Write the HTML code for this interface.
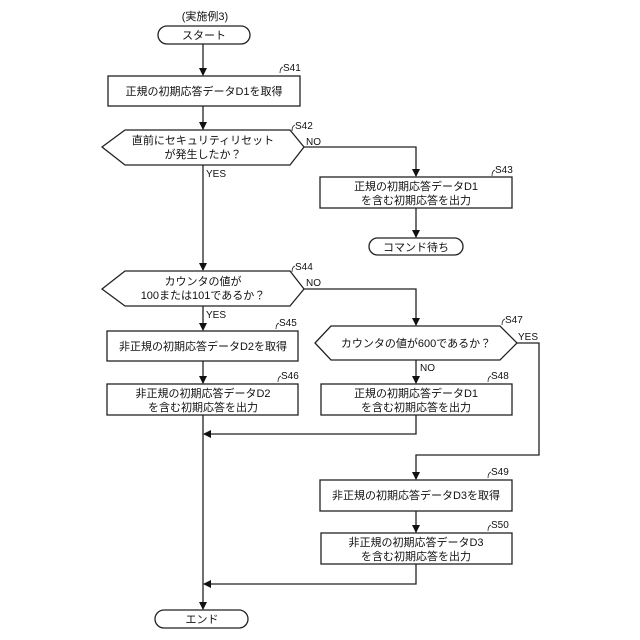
<!DOCTYPE html>
<html><head><meta charset="utf-8"><style>
html,body{margin:0;padding:0;background:#fff;}
svg{display:block;}
text{font-family:"Liberation Sans","Noto Sans CJK JP",sans-serif;font-size:11px;fill:#111;}
.c{text-anchor:middle;}
.l{font-size:10px;}
</style></head><body>
<svg width="640" height="640" viewBox="0 0 640 640" xmlns="http://www.w3.org/2000/svg">
<defs><marker id="a" markerWidth="8" markerHeight="8" refX="7" refY="4" orient="auto" markerUnits="userSpaceOnUse"><path d="M0,0 L8,4 L0,8 z" fill="#111"/></marker></defs>
<g fill="none" stroke="#222" stroke-width="1.3">
<rect x="158" y="26" width="92" height="18" rx="9"/>
<rect x="108" y="76" width="192" height="30"/>
<polygon points="102,147 125,130 290,130 304,147 290,165 125,165"/>
<rect x="320" y="177" width="192" height="31"/>
<rect x="369" y="238" width="94" height="17" rx="8.5"/>
<polygon points="102,289 125,271 290,271 304,289 290,306 125,306"/>
<rect x="107" y="331" width="191" height="30"/>
<rect x="107" y="384" width="191" height="31"/>
<polygon points="315,343 331,326 500,326 517,343 500,360 331,360"/>
<rect x="321" y="384" width="191" height="31"/>
<rect x="320" y="480" width="192" height="31"/>
<rect x="321" y="533" width="191" height="31"/>
<rect x="155" y="610" width="93" height="18" rx="9"/>
<line x1="203" y1="44" x2="203" y2="75" marker-end="url(#a)"/>
<line x1="203" y1="106" x2="203" y2="129" marker-end="url(#a)"/>
<polyline points="304,147 416,147 416,176" marker-end="url(#a)"/>
<line x1="416" y1="208" x2="416" y2="237" marker-end="url(#a)"/>
<line x1="203" y1="165" x2="203" y2="270" marker-end="url(#a)"/>
<polyline points="304,289 416,289 416,325" marker-end="url(#a)"/>
<line x1="203" y1="306" x2="203" y2="330" marker-end="url(#a)"/>
<line x1="203" y1="361" x2="203" y2="383" marker-end="url(#a)"/>
<line x1="416" y1="360" x2="416" y2="383" marker-end="url(#a)"/>
<polyline points="517,343 539,343 539,455 416,455 416,479" marker-end="url(#a)"/>
<line x1="416" y1="511" x2="416" y2="532" marker-end="url(#a)"/>
<polyline points="416,415 416,434 204,434" marker-end="url(#a)"/>
<polyline points="416,564 416,584 204,584" marker-end="url(#a)"/>
<line x1="203" y1="415" x2="203" y2="609" marker-end="url(#a)"/>
</g>
<g fill="none" stroke="#222" stroke-width="0.8">
<path d="M280,73 q0,-5 3,-6"/><path d="M292,131 q0,-5 3,-6"/><path d="M492,176 q0,-5 3,-6"/>
<path d="M292,272 q0,-5 3,-6"/><path d="M276,329 q0,-5 3,-6"/><path d="M278,382 q0,-5 3,-6"/>
<path d="M502,325 q0,-5 3,-6"/><path d="M488,382 q0,-5 3,-6"/><path d="M488,478 q0,-5 3,-6"/><path d="M488,531 q0,-5 3,-6"/>
</g>
<text x="205" y="20" class="c" font-size="12">(実施例3)</text>
<text x="204" y="39" class="c">スタート</text>
<text x="204" y="95" class="c">正規の初期応答データD1を取得</text>
<text x="203" y="144" class="c">直前にセキュリティリセット</text>
<text x="203" y="158" class="c">が発生したか？</text>
<text x="416" y="190" class="c">正規の初期応答データD1</text>
<text x="416" y="204" class="c">を含む初期応答を出力</text>
<text x="416" y="251" class="c">コマンド待ち</text>
<text x="203" y="285" class="c">カウンタの値が</text>
<text x="203" y="299" class="c">100または101であるか？</text>
<text x="203" y="350" class="c">非正規の初期応答データD2を取得</text>
<text x="203" y="397" class="c">非正規の初期応答データD2</text>
<text x="203" y="411" class="c">を含む初期応答を出力</text>
<text x="416" y="347" class="c">カウンタの値が600であるか？</text>
<text x="416" y="397" class="c">正規の初期応答データD1</text>
<text x="416" y="411" class="c">を含む初期応答を出力</text>
<text x="416" y="499" class="c">非正規の初期応答データD3を取得</text>
<text x="416" y="546" class="c">非正規の初期応答データD3</text>
<text x="416" y="560" class="c">を含む初期応答を出力</text>
<text x="202" y="623" class="c">エンド</text>
<text x="283" y="71" class="l">S41</text>
<text x="295" y="129" class="l">S42</text>
<text x="495" y="173" class="l">S43</text>
<text x="295" y="270" class="l">S44</text>
<text x="279" y="326" class="l">S45</text>
<text x="281" y="379" class="l">S46</text>
<text x="505" y="323" class="l">S47</text>
<text x="491" y="379" class="l">S48</text>
<text x="491" y="475" class="l">S49</text>
<text x="491" y="528" class="l">S50</text>
<text x="306" y="145" class="l">NO</text>
<text x="206" y="177" class="l">YES</text>
<text x="306" y="286" class="l">NO</text>
<text x="206" y="318" class="l">YES</text>
<text x="518" y="340" class="l">YES</text>
<text x="420" y="371" class="l">NO</text>
</svg>
</body></html>
